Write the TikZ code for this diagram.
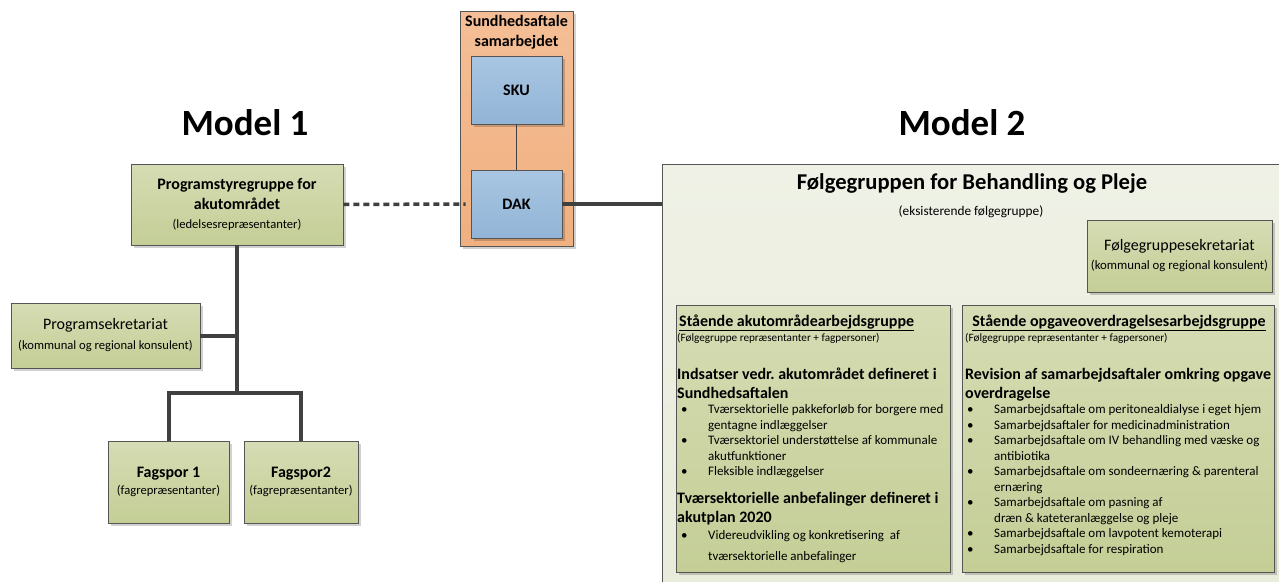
\documentclass[tikz,border=0pt]{standalone}
\usepackage{fontspec}
\setmainfont{Carlito}
\usetikzlibrary{shadows}
\definecolor{gtop}{RGB}{214,220,180}
\definecolor{gbot}{RGB}{196,206,150}
\definecolor{btop}{RGB}{168,198,226}
\definecolor{bbot}{RGB}{146,180,214}
\definecolor{otop}{RGB}{245,190,150}
\definecolor{obot}{RGB}{240,176,128}
\definecolor{ltop}{RGB}{239,241,230}
\definecolor{lbot}{RGB}{232,236,218}
\definecolor{edge}{RGB}{85,85,85}
\definecolor{conncol}{RGB}{64,64,64}
\newcommand{\fsz}[2]{\fontsize{#1}{#2}\selectfont}
\frenchspacing
\begin{document}
\begin{tikzpicture}[x=1pt,y=-1pt,
  boxbase/.style={draw=edge, line width=0.9pt, inner sep=0pt, align=center,
    drop shadow={shadow xshift=2.5pt, shadow yshift=-2.5pt, fill=black, opacity=0.18}},
  gbox/.style={boxbase, top color=gtop, bottom color=gbot},
  bbox/.style={boxbase, top color=btop, bottom color=bbot},
  obox/.style={boxbase, top color=otop, bottom color=obot},
  lbox/.style={boxbase, top color=ltop, bottom color=lbot},
  conn/.style={draw=conncol, line width=4pt},
  dconn/.style={draw=conncol, line width=3.5pt, dash pattern=on 6pt off 4pt},
  thin/.style={draw=conncol, line width=1.3pt},
  hd/.style={inner sep=0pt, anchor=base west, font=\fsz{16}{19}\bfseries},
  par/.style={inner sep=0pt, anchor=base west, font=\fsz{11.2}{13}},
  bul/.style={inner sep=0pt, anchor=base west, font=\fsz{13}{15}},
  title/.style={inner sep=0pt, anchor=base, font=\fsz{37}{40}\bfseries}
]
\useasboundingbox (0,0) rectangle (1279,581);
\clip (0,0) rectangle (1279,581);

% titles
\node[title] (m1) at (245,135) {Model 1};
\node[title] (m2) at (962,135) {Model 2};

% Sundhedsaftale
\node[obox, minimum width=113pt, minimum height=235pt] (sa) at (516.5,128.5) {};
\node[inner sep=0pt, align=center, font=\fsz{16}{20}\bfseries] (satxt) at (516.5,32) {Sundhedsaftale\\samarbejdet};
\node[bbox, minimum width=91pt, minimum height=68pt, font=\fsz{16}{19}\bfseries] (sku) at (516.5,90) {SKU};
\node[bbox, minimum width=91pt, minimum height=68pt, font=\fsz{16}{19}\bfseries] (dak) at (516.5,204) {DAK};
\draw[thin] (sku.south) -- (dak.north);

% Model 1
\node[gbox, minimum width=212pt, minimum height=81pt, font=\fsz{16}{19.5}\bfseries] (psg) at (237,204.5)
  {Programstyregruppe for\\akutområdet\\{\mdseries\fsz{12.6}{19.5}(ledelsesrepræsentanter)}};
\node[gbox, minimum width=189pt, minimum height=65pt, font=\fsz{16}{20}] (ps) at (105.5,335.5)
  {Programsekretariat\\{\fsz{12.6}{20}(kommunal og regional konsulent)}};
\node[gbox, minimum width=121pt, minimum height=82pt, font=\fsz{16}{17}\bfseries] (fs1) at (168.5,482)
  {Fagspor 1\\{\mdseries\fsz{12.6}{17}(fagrepræsentanter)}};
\node[gbox, minimum width=114pt, minimum height=82pt, font=\fsz{16}{17}\bfseries] (fs2) at (301,482)
  {Fagspor2\\{\mdseries\fsz{12.6}{17}(fagrepræsentanter)}};

\coordinate (j1) at (237,393);
\draw[conn] (psg.south) -- (j1);
\draw[conn] (ps.east) -- (ps.east -| psg.south);
\draw[conn] (fs1.north) |- (j1) -| (fs2.north);
\draw[dconn] (psg.east) -- ([xshift=-5pt]dak.west);

% Model 2 big box
\node[lbox, anchor=north west, minimum width=640pt, minimum height=440pt] (fg) at (662,164) {};
\draw[conn, line width=3.5pt] (dak.east) -- (dak.east -| fg.west);
\node[inner sep=0pt, anchor=base, font=\fsz{22.6}{26}\bfseries] (fgt) at (972,189) {Følgegruppen for Behandling og Pleje};
\node[inner sep=0pt, anchor=base, font=\fsz{13.3}{15}] (fge) at (971,215) {(eksisterende følgegruppe)};
\node[gbox, minimum width=185pt, minimum height=72pt, font=\fsz{16}{19}] (fgs) at (1179.5,256)
  {Følgegruppesekretariat\\{\fsz{12.8}{19}(kommunal og regional konsulent)}};

% left sub box
\node[gbox, minimum width=274pt, minimum height=267pt] (lb) at (813,438.5) {};
\node[hd] (lb1) at (679,326) {\underline{Stående akutområdearbejdsgruppe}};
\node[par] (lb2) at (677,341) {(Følgegruppe repræsentanter + fagpersoner)};
\node[hd] (lb3) at (677,379) {Indsatser vedr. akutområdet defineret i};
\node[hd] (lb4) at (677,398) {Sundhedsaftalen};
\foreach \n/\y/\b/\t in {a/413/1/{Tværsektorielle pakkeforløb for borgere med},
  b/429/0/{gentagne indlæggelser},
  c/444/1/{Tværsektoriel understøttelse af kommunale},
  d/460/0/{akutfunktioner},
  e/475/1/{Fleksible indlæggelser}}{
  \node[bul] (lbt\n) at (708,\y) {\t};
  \ifnum\b=1 \node[bul] (lbb\n) at (681,\y) {•};\fi
}
\node[hd] (lb5) at (677,503) {Tværsektorielle anbefalinger defineret i};
\node[hd] (lb6) at (677,522) {akutplan 2020};
\node[bul] (lbbf) at (681,539) {•};
\node[bul] (lbtf) at (708,539) {Videreudvikling og konkretisering\ \ af};
\node[bul] (lbtg) at (708,560) {tværsektorielle anbefalinger};

% right sub box
\node[gbox, minimum width=312pt, minimum height=267pt] (rb) at (1118,438.5) {};
\node[hd, anchor=base] (rb1) at (1119,326) {\underline{Stående opgaveoverdragelsesarbejdsgruppe}};
\node[par] (rb2) at (965,341) {(Følgegruppe repræsentanter + fagpersoner)};
\node[hd] (rb3) at (965,379) {Revision af samarbejdsaftaler omkring opgave};
\node[hd] (rb4) at (965,398) {overdragelse};
\foreach \n/\y/\b/\t in {a/413/1/{Samarbejdsaftale om peritonealdialyse i eget hjem},
  b/429/1/{Samarbejdsaftaler for medicinadministration},
  c/444/1/{Samarbejdsaftale om IV behandling med væske og},
  d/460/0/{antibiotika},
  e/475/1/{Samarbejdsaftale om sondeernæring \& parenteral},
  f/491/0/{ernæring},
  g/506/1/{Samarbejdsaftale om pasning af},
  h/522/0/{dræn \& kateteranlæggelse og pleje},
  i/537/1/{Samarbejdsaftale om lavpotent kemoterapi},
  j/553/1/{Samarbejdsaftale for respiration}}{
  \node[bul] (rbt\n) at (994,\y) {\t};
  \ifnum\b=1 \node[bul] (rbb\n) at (967,\y) {•};\fi
}
\end{tikzpicture}
\end{document}
